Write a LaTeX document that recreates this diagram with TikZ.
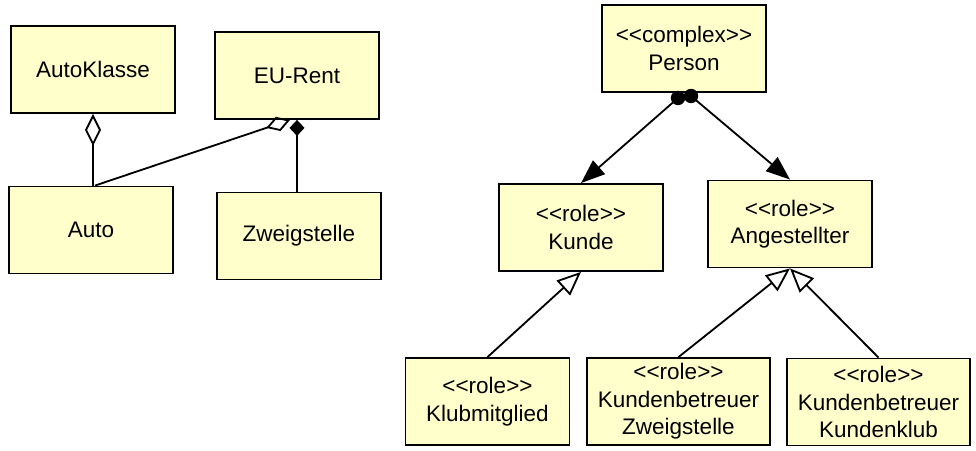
\documentclass[tikz,border=0pt]{standalone}
\usepackage{fontspec}
\setmainfont{Liberation Sans}
\usetikzlibrary{arrows.meta}

\definecolor{umlyellow}{RGB}{255,255,204}

\begin{document}
\begin{tikzpicture}[
    x=0.025cm, y=-0.025cm, line width=1.3pt,
    class/.style = {draw, fill=umlyellow, align=center, inner sep=2pt,
        minimum width=4.1cm, minimum height=2.175cm,
        font=\fontsize{16}{19.5}\selectfont},
    wide/.style = {minimum width=4.575cm},
    dot/.style = {circle, fill=black, inner sep=0pt, minimum size=0.36cm},
    agg/.style = {-{Diamond[open, length=0.8cm, width=0.4cm]}},
    aggtilt/.style = {-{Diamond[open, length=0.625cm, width=0.375cm]}},
    comp/.style = {-{Diamond[length=0.4cm, width=0.375cm]}},
    assoc/.style = {-{Triangle[length=0.6cm, width=0.45cm]}},
    gen/.style = {-{Triangle[open, length=0.6cm, width=0.5cm]}}
  ]
  \useasboundingbox (0,0) rectangle (976,451);
  % left part
  \node[class] (autoklasse) at (93,69.5) {AutoKlasse};
  \node[class] (eurent) at (297,75.5) {EU-Rent};
  \node[class] (auto) at (91,230) {Auto};
  \node[class] (zweigstelle) at (299,236) {Zweigstelle};
  \draw[agg] (autoklasse.south |- auto.north) -- (autoklasse.south);
  \draw[aggtilt] ([xshift=0.1cm]auto.north) -- ([xshift=-0.175cm]eurent.south);
  \draw[comp] (eurent.south |- zweigstelle.north) -- (eurent.south);
  % right part
  \node[class] (person) at (684,48.5) {<{}<complex>{}>\\Person};
  \node[class] (kunde) at (581,227.5) {<{}<role>{}>\\Kunde};
  \node[class] (angestellter) at (790,224) {<{}<role>{}>\\Angestellter};
  \node[class] (klubmitglied) at (487.5,401.5) {<{}<role>{}>\\Klubmitglied};
  \node[class, wide] (kbzweig) at (678.5,401.5) {<{}<role>{}>\\Kundenbetreuer\\Zweigstelle};
  \node[class, wide] (kbklub) at (878.5,402) {<{}<role>{}>\\Kundenbetreuer\\Kundenklub};
  \draw[assoc] (678,98) -- (kunde.north);
  \draw[assoc] (691,96) -- (angestellter.north);
  \node[dot] (dk) at (678,98) {};
  \node[dot] (da) at (691,96) {};
  \draw[gen] (klubmitglied.north) -- (kunde.south);
  \draw[gen] (kbzweig.north) -- (angestellter.south);
  \draw[gen] (kbklub.north) -- (angestellter.south);
\end{tikzpicture}
\end{document}
